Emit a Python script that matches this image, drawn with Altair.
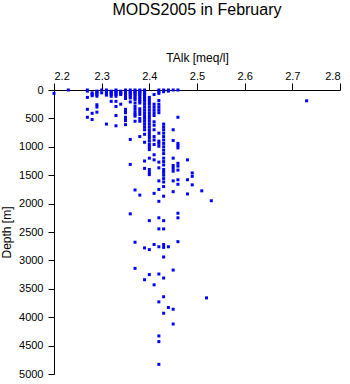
import altair as alt
import pandas as pd

# TAlk column values (meq/l) and the depths (m) observed in each column
talk_cols = [2.20, 2.23, 2.27, 2.28, 2.29, 2.30, 2.31, 2.32, 2.33, 2.34, 2.35, 2.36,
             2.37, 2.38, 2.39, 2.40, 2.41, 2.42, 2.43, 2.44, 2.45, 2.46, 2.48, 2.49,
             2.51, 2.52, 2.53, 2.73]
depth_cols = [
    [60],
    [0],
    [0, 20, 130, 340, 480],
    [50, 75, 100, 410, 520],
    [20, 40, 60, 80, 110, 260, 300, 390],
    [0, 50],
    [0, 20, 40, 60, 90, 600],
    [20, 40, 60, 80, 110, 200],
    [0, 20, 40, 60, 80, 110, 200, 290, 450, 630],
    [20, 40, 60, 80, 250],
    [0, 20, 40, 60, 80, 110, 150, 340, 370, 400, 480, 510, 540, 610],
    [0, 20, 40, 60, 80, 110, 140, 210, 870, 1310, 2180],
    [0, 20, 40, 60, 80, 110, 140, 170, 230, 290, 340, 390, 430, 460, 550, 1760, 2680, 3140],
    [0, 20, 40, 60, 80, 110, 140, 170, 200, 230, 330, 380, 430, 500, 550, 820, 1850],
    [0, 20, 40, 60, 80, 110, 140, 170, 200, 250, 300, 350, 400, 450, 500, 550, 600, 650,
     700, 780, 920, 1250, 1380, 2780, 3340],
    [130, 170, 210, 250, 300, 350, 400, 450, 500, 550, 600, 650, 700, 750, 800, 850, 900,
     960, 1010, 1050, 1200, 1400, 1450, 1490, 2300, 2810, 3250],
    [80, 250, 300, 350, 400, 450, 560, 620, 700, 820, 880, 960, 1140, 1230, 1820, 2720, 3430],
    [0, 30, 60, 185, 250, 300, 350, 400, 760, 900, 940, 990, 1270, 1370, 1600, 1750, 1960,
     2250, 2445, 2760, 3240, 3730, 4330, 4430, 4830],
    [0, 30, 600, 650, 700, 760, 820, 880, 940, 1000, 1060, 1120, 1200, 1260, 1320, 1400,
     1450, 1500, 1560, 1620, 1700, 1870, 2300, 2445, 2720, 2770, 2940, 3310, 3640, 3930],
    [0, 20, 2760, 3830],
    [0, 700, 890, 1200, 1330, 1380, 1430, 1600, 1790, 3170, 3860, 4120],
    [0, 480, 940, 980, 1020, 1290, 1340, 1410, 1580, 1660, 2170, 2250, 2670],
    [1230, 1580, 1830],
    [1460, 1520, 1670],
    [1775],
    [3660],
    [1950],
    [190],
]

x_ticks = [2.2, 2.3, 2.4, 2.5, 2.6, 2.7, 2.8]
y_ticks = list(range(0, 5001, 500))

rows = []
for t, ds in zip(talk_cols, depth_cols):
    for d in ds:
        rows.append({"talk": t, "depth": d})
df = pd.DataFrame(rows)

FONT = "Liberation Sans"

chart = alt.Chart(df).mark_square(size=9, color="#0000ff", opacity=1).encode(
    x=alt.X("talk:Q",
            scale=alt.Scale(domain=[2.2, 2.8], nice=False, zero=False),
            axis=alt.Axis(orient="top", values=x_ticks, format=".1f", title="TAlk [meq/l]",
                          grid=False, tickSize=7, labelPadding=2, titlePadding=6,
                          labelFontSize=11, titleFontSize=12, titleFontWeight="normal",
                          labelFont=FONT, titleFont=FONT, domainColor="black",
                          tickColor="black", labelColor="black", titleColor="black")),
    y=alt.Y("depth:Q",
            scale=alt.Scale(domain=[0, 5000], reverse=True, nice=False),
            axis=alt.Axis(values=y_ticks, format="d", title="Depth [m]", grid=False,
                          tickSize=6, labelPadding=5, titlePadding=5, labelFontSize=11,
                          titleFontSize=12, titleFontWeight="normal",
                          labelFont=FONT, titleFont=FONT, domainColor="black",
                          tickColor="black", labelColor="black", titleColor="black")),
).properties(
    width=286, height=284,
    title=alt.TitleParams("MODS2005 in February", fontSize=16, fontWeight="normal",
                          font=FONT, color="black", anchor="middle", offset=33),
    autosize=alt.AutoSizeParams(type="none"),
    padding={"left": 54, "top": 90, "right": 10, "bottom": 10},
).configure_view(stroke=None)

chart.save("out.html", embed_options={"renderer": "svg", "actions": False})
